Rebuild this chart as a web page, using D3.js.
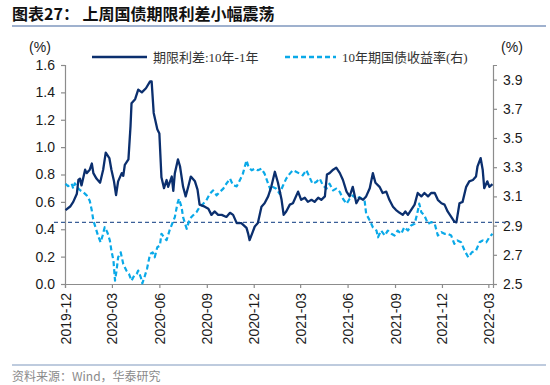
<!DOCTYPE html>
<html>
<head>
<meta charset="utf-8">
<script src="https://cdn.jsdelivr.net/npm/d3@7.9.0/dist/d3.min.js"></script>
<style>
  html, body { margin: 0; padding: 0; background: #fff; }
  svg { display: block; }
</style>
</head>
<body>
<div id="chart"></div>
<script>
// ---- data ----
const spreadDates = ['2019-12-02','2019-12-11','2019-12-17','2019-12-24','2019-12-27','2019-12-30','2020-01-02','2020-01-09','2020-01-12','2020-01-18','2020-01-22','2020-01-25','2020-01-31','2020-02-07','2020-02-13','2020-02-18','2020-02-25','2020-02-29','2020-03-05','2020-03-09','2020-03-13','2020-03-20','2020-03-23','2020-03-26','2020-04-02','2020-04-06','2020-04-08','2020-04-15','2020-04-21','2020-04-28','2020-05-06','2020-05-14','2020-05-17','2020-05-21','2020-05-28','2020-06-01','2020-06-05','2020-06-10','2020-06-15','2020-06-18','2020-06-25','2020-06-28','2020-07-01','2020-07-07','2020-07-11','2020-07-17','2020-07-22','2020-07-27','2020-08-01','2020-08-09','2020-08-14','2020-08-18','2020-08-28','2020-09-04','2020-09-10','2020-09-16','2020-09-23','2020-09-30','2020-10-09','2020-10-16','2020-10-22','2020-10-29','2020-11-07','2020-11-17','2020-11-20','2020-11-23','2020-11-28','2020-12-03','2020-12-09','2020-12-16','2020-12-22','2020-12-29','2021-01-04','2021-01-11','2021-01-17','2021-01-24','2021-01-28','2021-02-02','2021-02-09','2021-02-15','2021-02-25','2021-03-03','2021-03-10','2021-03-16','2021-03-23','2021-03-29','2021-04-05','2021-04-11','2021-04-18','2021-04-22','2021-04-27','2021-05-04','2021-05-10','2021-05-17','2021-05-23','2021-05-30','2021-06-05','2021-06-11','2021-06-18','2021-06-24','2021-07-01','2021-07-07','2021-07-14','2021-07-20','2021-07-25','2021-08-02','2021-08-08','2021-08-15','2021-08-21','2021-08-28','2021-09-03','2021-09-10','2021-09-16','2021-09-21','2021-09-26','2021-10-02','2021-10-09','2021-10-15','2021-10-22','2021-10-28','2021-11-04','2021-11-10','2021-11-17','2021-11-23','2021-11-30','2021-12-06','2021-12-12','2021-12-19','2021-12-25','2021-12-29','2022-01-04','2022-01-10','2022-01-17','2022-01-23','2022-01-30','2022-02-05','2022-02-08','2022-02-14','2022-02-18','2022-02-21','2022-02-27','2022-03-03','2022-03-09'];
const spreadValues = [0.54,0.566,0.60,0.66,0.76,0.77,0.72,0.835,0.81,0.835,0.88,0.81,0.77,0.74,0.835,0.96,0.92,0.835,0.75,0.65,0.75,0.81,0.79,0.87,0.91,1.15,1.32,1.35,1.42,1.40,1.43,1.48,1.48,1.25,1.13,1.10,0.78,0.70,0.76,0.71,0.785,0.68,0.81,0.91,0.86,0.71,0.64,0.71,0.785,0.75,0.69,0.58,0.565,0.55,0.505,0.53,0.505,0.505,0.49,0.52,0.505,0.445,0.445,0.41,0.37,0.32,0.37,0.42,0.445,0.565,0.59,0.64,0.71,0.82,0.74,0.615,0.505,0.53,0.58,0.59,0.675,0.615,0.63,0.60,0.615,0.60,0.63,0.615,0.64,0.80,0.81,0.835,0.85,0.81,0.76,0.675,0.64,0.71,0.59,0.63,0.615,0.64,0.70,0.81,0.74,0.71,0.665,0.675,0.615,0.565,0.54,0.52,0.505,0.53,0.505,0.54,0.58,0.665,0.64,0.665,0.64,0.665,0.665,0.615,0.59,0.58,0.53,0.49,0.455,0.45,0.59,0.60,0.71,0.75,0.76,0.785,0.86,0.92,0.835,0.70,0.75,0.71,0.73];

const yieldDates = ['2019-12-02','2019-12-07','2019-12-14','2019-12-17','2019-12-20','2019-12-27','2019-12-31','2020-01-05','2020-01-12','2020-01-18','2020-01-22','2020-01-25','2020-01-30','2020-02-03','2020-02-08','2020-02-12','2020-02-16','2020-02-21','2020-02-26','2020-02-29','2020-03-04','2020-03-07','2020-03-10','2020-03-13','2020-03-18','2020-03-23','2020-03-29','2020-04-03','2020-04-08','2020-04-13','2020-04-18','2020-04-21','2020-04-26','2020-04-29','2020-05-04','2020-05-08','2020-05-14','2020-05-19','2020-05-23','2020-05-28','2020-06-02','2020-06-05','2020-06-10','2020-06-15','2020-06-21','2020-07-01','2020-07-06','2020-07-09','2020-07-14','2020-07-17','2020-07-24','2020-07-30','2020-08-05','2020-08-12','2020-08-18','2020-08-25','2020-08-31','2020-09-07','2020-09-13','2020-09-20','2020-09-26','2020-10-03','2020-10-09','2020-10-16','2020-10-22','2020-10-29','2020-11-04','2020-11-10','2020-11-17','2020-11-21','2020-11-27','2020-12-03','2020-12-09','2020-12-16','2020-12-22','2020-12-29','2021-01-03','2021-01-07','2021-01-14','2021-01-20','2021-01-27','2021-02-02','2021-02-09','2021-02-15','2021-02-22','2021-02-28','2021-03-06','2021-03-13','2021-03-19','2021-03-25','2021-04-01','2021-04-08','2021-04-14','2021-04-21','2021-04-27','2021-05-04','2021-05-10','2021-05-17','2021-05-23','2021-05-30','2021-06-05','2021-06-11','2021-06-18','2021-06-24','2021-07-04','2021-07-07','2021-07-14','2021-07-20','2021-07-27','2021-07-30','2021-08-05','2021-08-12','2021-08-18','2021-08-25','2021-08-31','2021-09-06','2021-09-13','2021-09-19','2021-09-26','2021-10-02','2021-10-09','2021-10-14','2021-10-18','2021-10-22','2021-10-28','2021-11-04','2021-11-10','2021-11-17','2021-11-23','2021-11-30','2021-12-06','2021-12-12','2021-12-19','2021-12-25','2021-12-31','2022-01-07','2022-01-14','2022-01-21','2022-01-28','2022-02-05','2022-02-12','2022-02-18','2022-02-25','2022-03-03','2022-03-09'];
const yieldValues = [3.187,3.17,3.187,3.153,3.19,3.153,3.14,3.13,3.107,3.07,3.003,2.935,2.878,2.832,2.786,2.832,2.889,2.855,2.798,2.729,2.66,2.523,2.592,2.683,2.717,2.637,2.592,2.569,2.523,2.557,2.569,2.592,2.546,2.504,2.557,2.603,2.706,2.717,2.683,2.752,2.763,2.844,2.82,2.80,2.87,2.958,3.05,3.084,3.027,2.958,2.878,2.947,2.969,2.992,3.027,3.05,3.072,3.118,3.141,3.107,3.13,3.153,3.187,3.222,3.176,3.169,3.21,3.256,3.347,3.30,3.279,3.29,3.279,3.29,3.256,3.187,3.141,3.164,3.153,3.118,3.176,3.222,3.256,3.279,3.267,3.256,3.244,3.279,3.233,3.187,3.198,3.222,3.176,3.153,3.187,3.141,3.153,3.13,3.084,3.05,3.084,3.107,3.084,3.095,3.072,2.981,2.935,2.889,2.866,2.82,2.866,2.832,2.866,2.844,2.832,2.866,2.844,2.889,2.866,2.90,2.912,2.981,3.05,2.992,2.969,2.912,2.924,2.912,2.832,2.855,2.844,2.844,2.832,2.775,2.798,2.786,2.729,2.683,2.717,2.729,2.786,2.798,2.786,2.82,2.844];

const refLevel = 0.45;   // horizontal dashed reference, left axis
const leftTicks = [0, 0.2, 0.4, 0.6, 0.8, 1.0, 1.2, 1.4, 1.6];
const rightTicks = [2.5, 2.7, 2.9, 3.1, 3.3, 3.5, 3.7, 3.9];
const xTickLabels = ['2019-12','2020-03','2020-06','2020-09','2020-12','2021-03','2021-06','2021-09','2021-12','2022-03'];
const legendLabels = ['期限利差:10年-1年', '10年期国债收益率(右)'];

// ---- style ----
const W = 550, H = 385;
const NAVY = '#0b2f6e';
const SKY = '#0aa9e8';
const AXIS = '#8c8c8c';
const TEXT = '#1a1a1a';
const SANS = '"Liberation Sans", Arial, sans-serif';
const CJK = '"Liberation Serif", "Noto Sans CJK SC", serif';

const parse = d3.timeParse('%Y-%m-%d');
const spread = spreadDates.map((d, i) => ({ date: parse(d), v: spreadValues[i] }));
const yld = yieldDates.map((d, i) => ({ date: parse(d), v: yieldValues[i] }));

const svg = d3.select('#chart').append('svg')
    .attr('width', W).attr('height', H)
    .attr('viewBox', `0 0 ${W} ${H}`);

// title
svg.append('text')
    .attr('x', 12).attr('y', 20)
    .attr('font-family', '"Noto Sans CJK SC", sans-serif')
    .attr('font-size', 16).attr('font-weight', 700)
    .attr('fill', '#111')
    .text('图表27：  上周国债期限利差小幅震荡');
svg.append('line')
    .attr('x1', 12).attr('x2', 546).attr('y1', 26).attr('y2', 26)
    .attr('stroke', '#7f97be').attr('stroke-width', 1.5);

// footer
svg.append('line')
    .attr('x1', 12).attr('x2', 546).attr('y1', 365).attr('y2', 365)
    .attr('stroke', '#7f97be').attr('stroke-width', 1.2);
svg.append('text')
    .attr('x', 12).attr('y', 381)
    .attr('font-family', '"Noto Sans CJK SC", sans-serif')
    .attr('font-size', 12).attr('fill', '#8a8a8a')
    .text('资料来源：Wind，华泰研究');

// scales
const x = d3.scaleTime()
    .domain([parse('2019-12-01'), parse('2022-03-10')])
    .range([65, 493]);
const yL = d3.scaleLinear().domain([0, 1.6]).range([284, 65]);
const yR = d3.scaleLinear().domain([2.5, 4.0]).range([284, 65]);

function styleAxis(g) {
    g.select('.domain').attr('stroke', AXIS).attr('stroke-width', 1.2);
    g.selectAll('.tick line').attr('stroke', AXIS).attr('stroke-width', 1.2);
    g.selectAll('.tick text').attr('fill', TEXT).attr('font-family', SANS).attr('font-size', 14);
}

// left axis
svg.append('g')
    .attr('transform', 'translate(65,0)')
    .call(d3.axisLeft(yL).tickValues(leftTicks).tickFormat(d3.format('.1f')).tickSizeOuter(0).tickSize(4).tickPadding(6))
    .call(styleAxis);

// right axis
svg.append('g')
    .attr('transform', 'translate(493,0)')
    .call(d3.axisRight(yR).tickValues(rightTicks).tickFormat(d3.format('.1f')).tickSizeOuter(0).tickSize(4).tickPadding(6))
    .call(styleAxis);

// bottom axis
const xAxis = svg.append('g')
    .attr('transform', 'translate(0,284)')
    .call(d3.axisBottom(x)
        .tickValues(xTickLabels.map(d => d3.timeParse('%Y-%m')(d)))
        .tickFormat(d3.timeFormat('%Y-%m'))
        .tickSizeOuter(0).tickSize(4))
    .call(styleAxis);
xAxis.selectAll('.tick text')
    .attr('transform', 'rotate(-90)')
    .attr('text-anchor', 'end')
    .attr('x', -9).attr('y', 0)
    .attr('dy', '0.36em');

// unit labels
svg.append('text').attr('x', 40).attr('y', 52).attr('text-anchor', 'middle')
    .attr('font-family', SANS).attr('font-size', 14).attr('fill', TEXT).text('(%)');
svg.append('text').attr('x', 512).attr('y', 52).attr('text-anchor', 'middle')
    .attr('font-family', SANS).attr('font-size', 14).attr('fill', TEXT).text('(%)');

// reference dashed line
svg.append('line')
    .attr('x1', 54).attr('x2', 506)
    .attr('y1', yL(refLevel)).attr('y2', yL(refLevel))
    .attr('stroke', '#3b5f98').attr('stroke-width', 1.3)
    .attr('stroke-dasharray', '4,3');

// series
const lineL = d3.line().x(d => x(d.date)).y(d => yL(d.v));
const lineR = d3.line().x(d => x(d.date)).y(d => yR(d.v));

svg.append('path').datum(yld)
    .attr('d', lineR)
    .attr('fill', 'none').attr('stroke', SKY)
    .attr('stroke-width', 2.2).attr('stroke-dasharray', '5,3')
    .attr('stroke-linejoin', 'round');

svg.append('path').datum(spread)
    .attr('d', lineL)
    .attr('fill', 'none').attr('stroke', NAVY)
    .attr('stroke-width', 2.3).attr('stroke-linejoin', 'round');

// legend
const legend = svg.append('g').attr('font-family', CJK).attr('font-size', 13).attr('fill', '#333');
legend.append('line').attr('x1', 92).attr('x2', 147).attr('y1', 57).attr('y2', 57)
    .attr('stroke', NAVY).attr('stroke-width', 2.5);
legend.append('text').attr('x', 153).attr('y', 62).text(legendLabels[0]);
legend.append('line').attr('x1', 285).attr('x2', 336).attr('y1', 57).attr('y2', 57)
    .attr('stroke', SKY).attr('stroke-width', 2.5).attr('stroke-dasharray', '5,3');
legend.append('text').attr('x', 342).attr('y', 62).text(legendLabels[1]);
</script>
</body>
</html>
